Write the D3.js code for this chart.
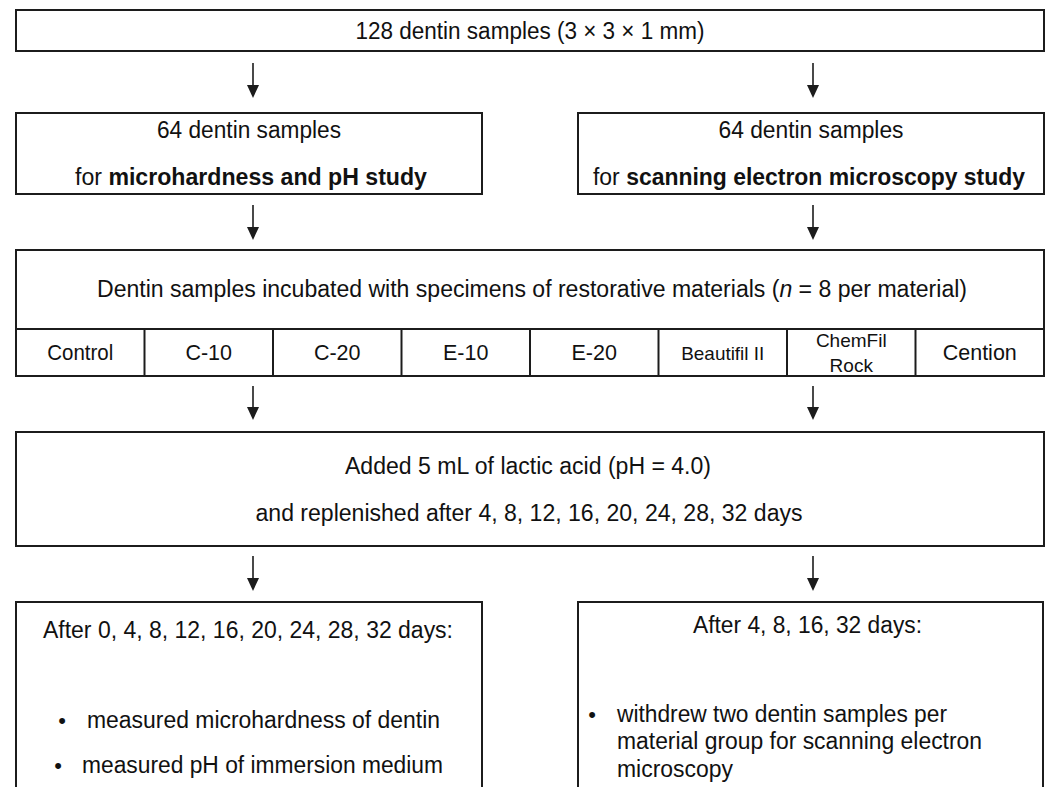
<!DOCTYPE html>
<html>
<head>
<meta charset="utf-8">
<script src="https://cdn.jsdelivr.net/npm/d3@7"></script>
<style>
    body { margin: 0; background: #fff; }
    text { font-family: "Liberation Sans", Arial, sans-serif; fill: #111; }
</style>
</head>
<body>
<svg id="chart" width="1049" height="787"></svg>
<script>
// flow chart texts
const topLabel = "128 dentin samples (3 × 3 × 1 mm)";
const branchTitles = ["64 dentin samples", "64 dentin samples"];
const branchStudies = ["microhardness and pH study", "scanning electron microscopy study"];
const incubationLabel = ["Dentin samples incubated with specimens of restorative materials (", "n", " = 8 per material)"];
const materials = ["Control", "C-10", "C-20", "E-10", "E-20", "Beautifil II", "ChemFil Rock", "Cention"];
const acidLines = ["Added 5 mL of lactic acid (pH = 4.0)", "and replenished after 4, 8, 12, 16, 20, 24, 28, 32 days"];
const leftDays = "After 0, 4, 8, 12, 16, 20, 24, 28, 32 days:";
const leftBullets = ["measured microhardness of dentin", "measured pH of immersion medium"];
const rightDays = "After 4, 8, 16, 32 days:";
const rightBullet = ["withdrew two dentin samples per", "material group for scanning electron", "microscopy"];

let svg = d3.select("#chart");
let stroke = "#1c1c1c";
let fs = 23;
let left = 16, right = 1044;
let col = [{x0: 16, x1: 482, mid: 253}, {x0: 578, x1: 1044, mid: 813}];

function box(x0, y0, x1, y1) {
    svg.append("rect")
        .attr("x", x0).attr("y", y0)
        .attr("width", x1 - x0).attr("height", y1 - y0)
        .attr("fill", "none")
        .attr("stroke", stroke)
        .attr("stroke-width", 2);
}

function label(txt, x, y, size, width, anchor) {
    let t = svg.append("text")
        .attr("x", x).attr("y", y)
        .attr("font-size", size)
        .attr("text-anchor", anchor || "middle")
        .text(txt);
    if (width) t.attr("textLength", width).attr("lengthAdjust", "spacingAndGlyphs");
    return t;
}

function arrows(y0, y1) {
    col.forEach(function (c) {
        svg.append("line")
            .attr("x1", c.mid).attr("x2", c.mid)
            .attr("y1", y0).attr("y2", y1 - 10)
            .attr("stroke", stroke).attr("stroke-width", 1.6);
        svg.append("path")
            .attr("d", "M" + (c.mid - 6) + "," + (y1 - 13) + "L" + (c.mid + 6) + "," + (y1 - 13) + "L" + c.mid + "," + y1 + "Z")
            .attr("fill", stroke);
    });
}

// top box
box(left, 10, right, 51);
label(topLabel, 530, 39, fs, 349);
arrows(63, 98);

// two branches
let branchWidths = [[184, 352], [185, 432]];
col.forEach(function (c, i) {
    box(c.x0, 113, c.x1, 194);
    let cx = (c.x0 + c.x1) / 2;
    label(branchTitles[i], cx, 138, fs, branchWidths[i][0]);
    let t = svg.append("text")
        .attr("x", i == 0 ? 75 : 593).attr("y", 185)
        .attr("font-size", fs)
        .attr("textLength", branchWidths[i][1])
        .attr("lengthAdjust", "spacingAndGlyphs");
    t.append("tspan").text("for ");
    t.append("tspan").attr("font-weight", "bold").text(branchStudies[i]);
});
arrows(205, 240);

// incubation box with material cells
box(left, 250, right, 376);
let inc = svg.append("text")
    .attr("x", 97).attr("y", 297)
    .attr("font-size", fs)
    .attr("textLength", 870)
    .attr("lengthAdjust", "spacingAndGlyphs");
inc.append("tspan").text(incubationLabel[0]);
inc.append("tspan").attr("font-style", "italic").text(incubationLabel[1]);
inc.append("tspan").text(incubationLabel[2]);

let x = d3.scaleBand().domain(materials).range([left, right]);
svg.append("line")
    .attr("x1", left).attr("x2", right)
    .attr("y1", 329).attr("y2", 329)
    .attr("stroke", stroke).attr("stroke-width", 2);
svg.selectAll("line.cell")
    .data(materials.slice(1))
    .enter().append("line")
    .attr("class", "cell")
    .attr("x1", d => x(d)).attr("x2", d => x(d))
    .attr("y1", 329).attr("y2", 376)
    .attr("stroke", stroke).attr("stroke-width", 2);
materials.forEach(function (m) {
    let cx = x(m) + x.bandwidth() / 2;
    let parts = m.split(" ");
    if (m == "ChemFil Rock") {
        label(parts[0], cx, 347, 19);
        label(parts[1], cx, 372, 19);
    } else if (m == "Beautifil II") {
        label(m, cx, 360, 19, 83);
    } else {
        label(m, cx, 360, 21.5, m == "Control" ? 66 : null);
    }
});
arrows(386, 420);

// lactic acid box
box(left, 432, right, 546);
label(acidLines[0], 528, 474, fs, 366);
label(acidLines[1], 529, 521, fs, 547);
arrows(556, 591);

// bottom boxes (run off the page)
box(col[0].x0, 602, col[0].x1, 800);
box(col[1].x0, 602, 1043, 800);

label(leftDays, 43, 638, fs, 410, "start");
label("•", 62, 728, 22, null, "middle");
label(leftBullets[0], 87, 728, fs, 353, "start");
label("•", 58, 773, 22, null, "middle");
label(leftBullets[1], 82, 773, fs, 361, "start");

label(rightDays, 693, 633, fs, 229, "start");
label("•", 592, 722, 22, null, "middle");
let rw = [330, 365, 116];
let ry = [722, 749, 777];
rightBullet.forEach(function (line, i) {
    label(line, 617, ry[i], fs, rw[i], "start");
});
</script>
</body>
</html>
